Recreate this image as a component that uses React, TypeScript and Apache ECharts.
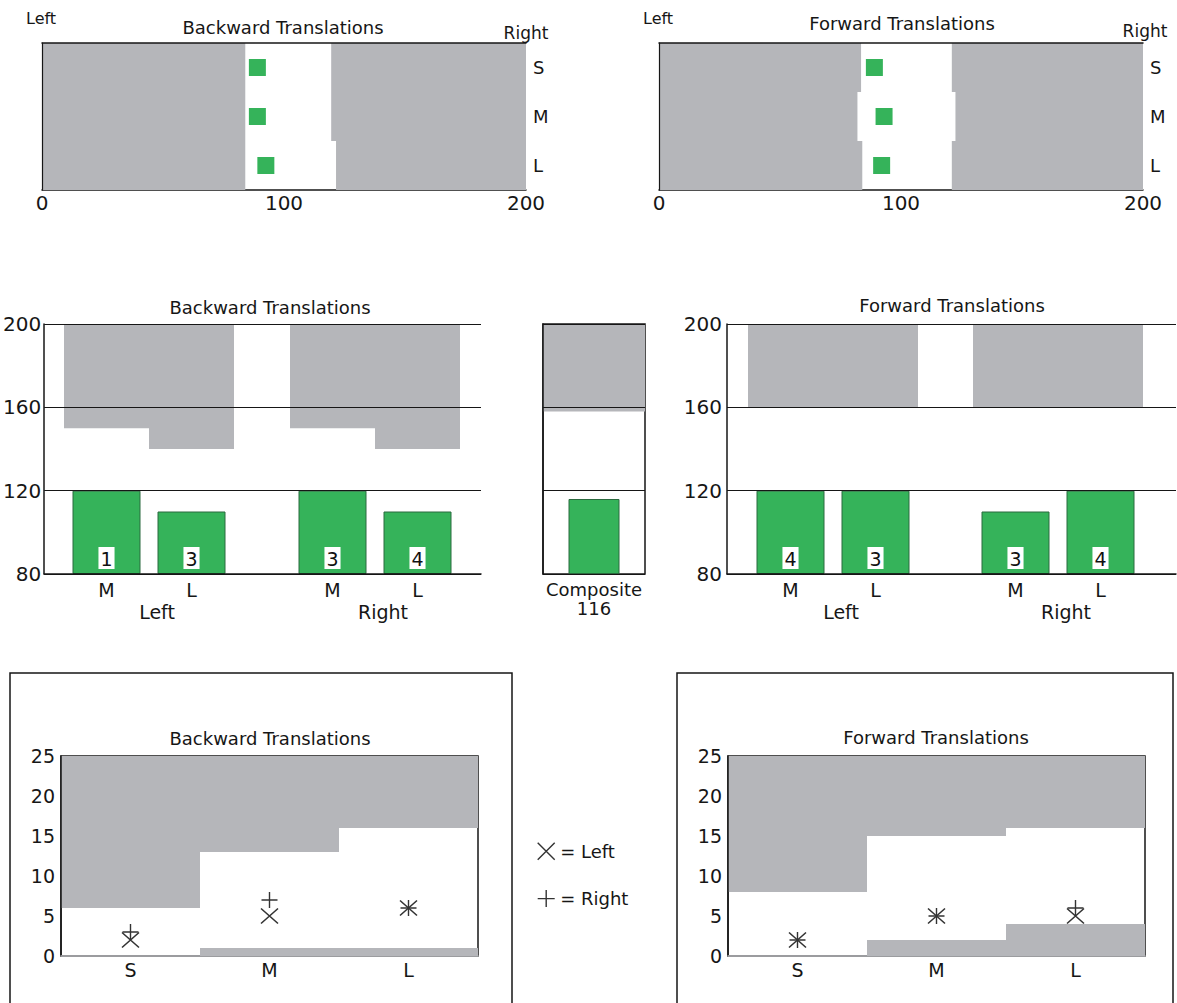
import React, { useEffect, useRef } from "react";
import * as echarts from "echarts";

const FONT = '"DejaVu Sans", "Liberation Sans", Arial, sans-serif';
const GRAY = "#b5b6ba";
const GREEN = "#35b35a";
const GREEN_EDGE = "#2a6a3e";
const INK = "#161616";

// ---------- top panels (S/M/L rows on a 0–200 scale) ----------
const sizeCats = ["S", "M", "L"];
const topTicks = [0, 100, 200];
const backNormLow = [84, 84, 84];
const backNormHigh = [119.5, 119.5, 121.5];
const backScores = [89, 89, 92.5];
const fwdNormLow = [83.5, 82, 84];
const fwdNormHigh = [121, 122.5, 121];
const fwdScores = [89, 93, 92];

// ---------- middle panels (80–200 scale) ----------
const sideCats = ["M", "L"];
const sideGroups = ["Left", "Right"];
const midTicks = [80, 120, 160, 200];
const backLeftLimit = [150, 140];
const backRightLimit = [150, 140];
const backLeftValues = [120, 110];
const backRightValues = [120, 110];
const backLeftCounts = [1, 3];
const backRightCounts = [3, 4];
const fwdLeftLimit = [160, 160];
const fwdRightLimit = [160, 160];
const fwdLeftValues = [120, 120];
const fwdRightValues = [110, 120];
const fwdLeftCounts = [4, 3];
const fwdRightCounts = [3, 4];
const compositeCats = ["Composite"];
const compositeLimit = [158];
const compositeValue = [116];

// ---------- bottom panels (0–25 scale) ----------
const bottomTicks = [0, 5, 10, 15, 20, 25];
const backUpper = [6, 13, 16];
const backLower = [0, 1, 1];
const backLeftPts = [2, 5, 6];
const backRightPts = [3, 7, 6];
const fwdUpper = [8, 15, 16];
const fwdLower = [0, 2, 4];
const fwdLeftPts = [2, 5, 5];
const fwdRightPts = [2, 5, 6];

const X_PATH = "path://M0,0L10,10M10,0L0,10";
const PLUS_PATH = "path://M5,0L5,10M0,5L10,5";
const markerStyle = { color: "transparent", borderColor: "#333", borderWidth: 1.4, opacity: 1 };

function buildOption() {
  const grid: any[] = [];
  const xAxis: any[] = [];
  const yAxis: any[] = [];
  const series: any[] = [];
  const graphic: any[] = [];
  const addGrid = (g: any) => (grid.push(g), grid.length - 1);
  const addX = (a: any) => (xAxis.push(a), xAxis.length - 1);
  const addY = (a: any) => (yAxis.push(a), yAxis.length - 1);
  const hidden = {
    axisLine: { show: false },
    axisTick: { show: false },
    axisLabel: { show: false },
    splitLine: { show: false },
  };
  const text = (t: string, x: number, y: number, size: number, align = "center") =>
    graphic.push({
      type: "text",
      x,
      y,
      silent: true,
      style: {
        text: t,
        fill: INK,
        fontSize: size,
        fontFamily: FONT,
        align,
        verticalAlign: "middle",
      },
    });

  // ---------------- top panels ----------------
  const topPanel = (left: number, lows: number[], highs: number[], scores: number[]) => {
    const tMin = topTicks[0];
    const tMax = topTicks[topTicks.length - 1];
    const g = addGrid({ left, top: 43, width: 484, height: 147 });
    const x = addX({
      type: "value",
      gridIndex: g,
      min: tMin,
      max: tMax,
      interval: topTicks[1] - topTicks[0],
      position: "bottom",
      axisLine: { show: true, lineStyle: { color: INK, width: 1.5 } },
      axisTick: { show: false },
      splitLine: { show: false },
      axisLabel: { fontSize: 20, color: INK, margin: 3, fontFamily: FONT },
    });
    addX({
      type: "value",
      gridIndex: g,
      min: tMin,
      max: tMax,
      position: "top",
      z: 5,
      ...hidden,
      axisLine: { show: true, lineStyle: { color: INK, width: 1.5 } },
    });
    const y = addY({
      type: "category",
      gridIndex: g,
      data: sizeCats,
      inverse: true,
      position: "right",
      axisLine: { show: false },
      axisTick: { show: false },
      splitLine: { show: false },
      axisLabel: { fontSize: 18, color: INK, margin: 7, fontFamily: FONT },
    });
    addY({
      type: "value",
      gridIndex: g,
      min: 0,
      max: 1,
      position: "left",
      z: 5,
      ...hidden,
      axisLine: { show: true, lineStyle: { color: INK, width: 1.2 } },
    });
    series.push({
      type: "custom",
      xAxisIndex: x,
      yAxisIndex: y,
      silent: true,
      encode: { x: [1, 2], y: 0 },
      data: sizeCats.map((_, i) => [i, lows[i], highs[i]]),
      renderItem: (_p: any, api: any) => {
        const i = api.value(0);
        const a = api.coord([tMin, i]);
        const lo = api.coord([api.value(1), i]);
        const hi = api.coord([api.value(2), i]);
        const b = api.coord([tMax, i]);
        const h = api.size([0, 1])[1];
        const y0 = a[1] - h / 2;
        return {
          type: "group",
          children: [
            { type: "rect", shape: { x: a[0], y: y0, width: lo[0] - a[0], height: h }, style: { fill: GRAY } },
            { type: "rect", shape: { x: hi[0], y: y0, width: b[0] - hi[0], height: h }, style: { fill: GRAY } },
          ],
        };
      },
    });
    series.push({
      type: "scatter",
      xAxisIndex: x,
      yAxisIndex: y,
      symbol: "rect",
      symbolSize: 17,
      silent: true,
      itemStyle: { color: GREEN, opacity: 1 },
      data: scores.map((v, i) => [v, i]),
    });
  };

  topPanel(42, backNormLow, backNormHigh, backScores);
  topPanel(659, fwdNormLow, fwdNormHigh, fwdScores);
  text("Left", 26, 18, 16, "left");
  text("Backward Translations", 283, 27, 18);
  text("Right", 526, 33, 17);
  text("Left", 643, 18, 16, "left");
  text("Forward Translations", 902, 23, 18);
  text("Right", 1145, 31, 17);

  // ---------------- middle panels ----------------
  const midMin = midTicks[0];
  const midMax = midTicks[midTicks.length - 1];
  const midTop = 324;
  const midH = 250;

  const midFrame = (left: number, width: number, labelMargin: number) => {
    const g = addGrid({ left, top: midTop, width, height: midH });
    addX({
      type: "value",
      gridIndex: g,
      min: 0,
      max: 1,
      z: 5,
      ...hidden,
      axisLine: { show: true, lineStyle: { color: INK, width: 1.5 } },
    });
    addY({
      type: "value",
      gridIndex: g,
      min: midMin,
      max: midMax,
      interval: midTicks[1] - midTicks[0],
      z: 5,
      axisLine: { show: true, lineStyle: { color: INK, width: 1.5 } },
      axisTick: { show: false },
      axisLabel: { fontSize: 20, color: INK, margin: labelMargin, fontFamily: FONT },
      splitLine: { show: true, lineStyle: { color: INK, width: 1 } },
    });
  };

  const grayTop = (_p: any, api: any) => {
    const i = api.value(0);
    const top = api.coord([i, midMax]);
    const bot = api.coord([i, api.value(1)]);
    const w = api.size([1, 0])[0];
    return {
      type: "rect",
      shape: { x: top[0] - w / 2, y: top[1], width: w, height: bot[1] - top[1] },
      style: { fill: GRAY },
    };
  };

  const sideGroup = (
    left: number,
    name: string,
    limits: number[],
    values: number[],
    counts: number[]
  ) => {
    const g = addGrid({ left, top: midTop, width: 170, height: midH });
    const x = addX({
      type: "category",
      gridIndex: g,
      data: sideCats,
      axisLine: { show: false },
      axisTick: { show: false },
      axisLabel: { fontSize: 19, color: INK, margin: 6, fontFamily: FONT },
      name,
      nameLocation: "middle",
      nameGap: 28,
      nameTextStyle: { fontSize: 19, color: INK, fontFamily: FONT, padding: [0, 0, 0, 16] },
    });
    const y = addY({ type: "value", gridIndex: g, min: midMin, max: midMax, startValue: midMin, ...hidden });
    series.push({
      type: "custom",
      xAxisIndex: x,
      yAxisIndex: y,
      silent: true,
      encode: { x: 0, y: 1 },
      data: limits.map((v, i) => [i, v]),
      renderItem: grayTop,
    });
    series.push({
      type: "bar",
      xAxisIndex: x,
      yAxisIndex: y,
      barWidth: "80%",
      silent: true,
      data: values,
      itemStyle: { color: GREEN, borderColor: GREEN_EDGE, borderWidth: 1 },
      label: {
        show: true,
        position: "insideBottom",
        distance: 5,
        formatter: (p: any) => String(counts[p.dataIndex]),
        backgroundColor: "#ffffff",
        color: "#111",
        fontSize: 19,
        fontFamily: FONT,
        padding: [2, 2, 1, 2],
      },
    });
  };

  // backward (left block)
  midFrame(43, 438, 3);
  sideGroup(64, sideGroups[0], backLeftLimit, backLeftValues, backLeftCounts);
  sideGroup(290, sideGroups[1], backRightLimit, backRightValues, backRightCounts);
  text("Backward Translations", 270, 307, 18);

  // composite
  {
    const g = addGrid({
      left: 543,
      top: midTop,
      width: 102,
      height: midH,
      show: true,
      borderColor: INK,
      borderWidth: 1.5,
    });
    const x = addX({
      type: "category",
      gridIndex: g,
      data: compositeCats,
      axisLine: { show: false },
      axisTick: { show: false },
      axisLabel: {
        fontSize: 18,
        color: INK,
        margin: 6,
        lineHeight: 19,
        fontFamily: FONT,
        formatter: (v: string) => `${v}\n${compositeValue[0]}`,
      },
    });
    const y = addY({
      type: "value",
      gridIndex: g,
      min: midMin,
      max: midMax,
      interval: midTicks[1] - midTicks[0],
      startValue: midMin,
      z: 5,
      axisLine: { show: true, lineStyle: { color: INK, width: 1.5 } },
      axisTick: { show: false },
      axisLabel: { show: false },
      splitLine: { show: true, lineStyle: { color: INK, width: 1 } },
    });
    series.push({
      type: "custom",
      xAxisIndex: x,
      yAxisIndex: y,
      silent: true,
      encode: { x: 0, y: 1 },
      data: compositeLimit.map((v, i) => [i, v]),
      renderItem: grayTop,
    });
    series.push({
      type: "bar",
      xAxisIndex: x,
      yAxisIndex: y,
      barWidth: "50%",
      silent: true,
      data: compositeValue,
      itemStyle: { color: GREEN, borderColor: GREEN_EDGE, borderWidth: 1 },
    });
  }

  // forward (right block)
  midFrame(727, 449, 5);
  sideGroup(748, sideGroups[0], fwdLeftLimit, fwdLeftValues, fwdLeftCounts);
  sideGroup(973, sideGroups[1], fwdRightLimit, fwdRightValues, fwdRightCounts);
  text("Forward Translations", 952, 305, 18);

  // ---------------- bottom panels ----------------
  const bMin = bottomTicks[0];
  const bMax = bottomTicks[bottomTicks.length - 1];
  const bottomPanel = (
    frameX: number,
    frameW: number,
    left: number,
    upper: number[],
    lower: number[],
    leftPts: number[],
    rightPts: number[]
  ) => {
    graphic.push({
      type: "rect",
      silent: true,
      shape: { x: frameX, y: 673, width: frameW, height: 400 },
      style: { fill: "none", stroke: INK, lineWidth: 1.5 },
    });
    const g = addGrid({
      left,
      top: 756,
      width: 417,
      height: 200,
      show: true,
      borderColor: INK,
      borderWidth: 1.5,
    });
    const x = addX({
      type: "category",
      gridIndex: g,
      data: sizeCats,
      z: 5,
      axisLine: { show: true, lineStyle: { color: GRAY, width: 1.5 } },
      axisTick: { show: false },
      axisLabel: { fontSize: 19, color: INK, margin: 4, fontFamily: FONT },
    });
    const y = addY({
      type: "value",
      gridIndex: g,
      min: bMin,
      max: bMax,
      interval: bottomTicks[1] - bottomTicks[0],
      z: 5,
      axisLine: { show: true, lineStyle: { color: INK, width: 1.5 } },
      axisTick: { show: false },
      splitLine: { show: false },
      axisLabel: { fontSize: 19, color: INK, margin: 6, fontFamily: FONT },
    });
    series.push({
      type: "custom",
      xAxisIndex: x,
      yAxisIndex: y,
      silent: true,
      encode: { x: 0, y: [1, 2] },
      data: sizeCats.map((_, i) => [i, upper[i], lower[i]]),
      renderItem: (_p: any, api: any) => {
        const i = api.value(0);
        const up = api.value(1);
        const lo = api.value(2);
        const w = api.size([1, 0])[0];
        const a = api.coord([i, bMax]);
        const b = api.coord([i, up]);
        const c = api.coord([i, lo]);
        const d = api.coord([i, bMin]);
        const children: any[] = [
          { type: "rect", shape: { x: a[0] - w / 2, y: a[1], width: w, height: b[1] - a[1] }, style: { fill: GRAY } },
        ];
        if (lo > bMin) {
          children.push({
            type: "rect",
            shape: { x: c[0] - w / 2, y: c[1], width: w, height: d[1] - c[1] },
            style: { fill: GRAY },
          });
        }
        return { type: "group", children };
      },
    });
    series.push({
      name: "Left",
      type: "scatter",
      xAxisIndex: x,
      yAxisIndex: y,
      symbol: X_PATH,
      symbolSize: [17, 15],
      silent: true,
      itemStyle: markerStyle,
      data: leftPts.map((v, i) => [i, v]),
    });
    series.push({
      name: "Right",
      type: "scatter",
      xAxisIndex: x,
      yAxisIndex: y,
      symbol: PLUS_PATH,
      symbolSize: [16, 16],
      silent: true,
      itemStyle: markerStyle,
      data: rightPts.map((v, i) => [i, v]),
    });
  };

  bottomPanel(10, 502, 61, backUpper, backLower, backLeftPts, backRightPts);
  bottomPanel(677, 496, 728, fwdUpper, fwdLower, fwdLeftPts, fwdRightPts);
  text("Backward Translations", 270, 738, 18);
  text("Forward Translations", 936, 737, 18);

  return {
    animation: false,
    backgroundColor: "#ffffff",
    textStyle: { fontFamily: FONT },
    grid,
    xAxis,
    yAxis,
    series,
    graphic,
    legend: {
      left: 532,
      top: 837,
      orient: "vertical",
      itemGap: 29,
      itemWidth: 18,
      itemHeight: 17,
      selectedMode: false,
      formatter: "= {name}",
      textStyle: { fontSize: 18, color: INK, fontFamily: FONT },
      data: [
        { name: "Left", icon: X_PATH, itemStyle: { ...markerStyle } },
        { name: "Right", icon: PLUS_PATH, itemStyle: { ...markerStyle } },
      ],
    },
  };
}

export default function App() {
  const ref = useRef<HTMLDivElement>(null);
  useEffect(() => {
    if (!ref.current) return;
    const chart = echarts.init(ref.current, undefined, { renderer: "svg" });
    chart.setOption(buildOption() as any);
    return () => chart.dispose();
  }, []);
  return (
    <div
      ref={ref}
      style={{ position: "absolute", left: 0, top: 0, width: 1177, height: 1003, background: "#fff" }}
    />
  );
}
